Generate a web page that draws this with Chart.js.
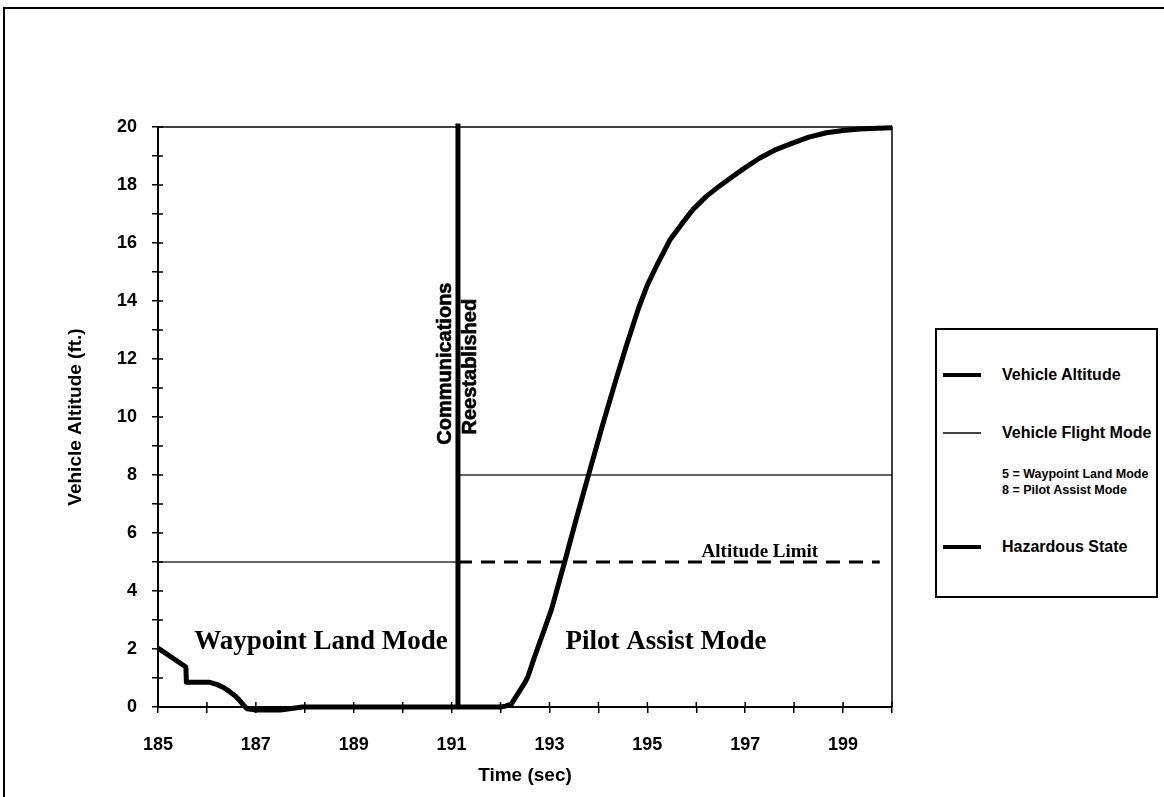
<!DOCTYPE html>
<html lang="en">
<head>
<meta charset="UTF-8">
<title>Vehicle Altitude</title>
<script src="https://cdn.jsdelivr.net/npm/chart.js@4"></script>
<style>
  body { margin: 0; background: #fff; }
  #wrap { position: relative; width: 1164px; height: 797px; }
  #myChart { position: absolute; left: 0; top: 0; }
  #legend {
    position: absolute; left: 935px; top: 328px; width: 223px; height: 270px;
    border: 2px solid #000; box-sizing: border-box; background: #fff;
    font-family: 'Liberation Sans', Arial, sans-serif; color: #000;
  }
  .sw { position: absolute; left: 6px; width: 38px; background: #000; }
  .txt { position: absolute; left: 65px; font-size: 16px; font-weight: bold; line-height: 18px; white-space: nowrap; }
  .small { position: absolute; left: 65px; font-size: 12.5px; font-weight: bold; line-height: 16px; white-space: nowrap; }
</style>
</head>
<body>
<div id="wrap">
  <canvas id="myChart" width="1164" height="797"></canvas>
  <div id="legend">
    <div class="sw" style="top:43px;height:4px"></div>
    <div class="txt" style="top:36px">Vehicle Altitude</div>
    <div class="sw" style="top:102px;height:1.5px;background:#444"></div>
    <div class="txt" style="top:94px">Vehicle Flight Mode</div>
    <div class="small" style="top:136px">5 = Waypoint Land Mode</div>
    <div class="small" style="top:152px">8 = Pilot Assist Mode</div>
    <div class="sw" style="top:215px;height:4px"></div>
    <div class="txt" style="top:208px">Hazardous State</div>
  </div>
</div>
<script>
    // vehicle altitude trace (time in sec, altitude in ft)
    const altTime = [185.0, 185.57, 185.58, 186.06, 186.2, 186.35, 186.47, 186.58, 186.66, 186.74, 186.82, 187.0, 187.5, 187.95,
        189.0, 190.0, 191.0, 192.0, 192.1, 192.22, 192.5, 192.56, 192.7, 193.04, 193.31, 193.55, 193.79, 194.09,
        194.37, 194.57, 194.82, 195.0, 195.2, 195.46, 195.7, 195.93, 196.2, 196.47, 196.75, 197.0, 197.3, 197.6,
        197.98, 198.3, 198.66, 199.0, 199.34, 199.7, 200.0];
    const altValue = [2.03, 1.38, 0.85, 0.85, 0.78, 0.66, 0.52, 0.38, 0.24, 0.08, -0.06, -0.1, -0.1, 0,
        0, 0, 0, 0, 0.03, 0.1, 0.85, 1.05, 1.75, 3.36, 5.0, 6.5, 7.95, 9.75,
        11.35, 12.45, 13.75, 14.55, 15.25, 16.1, 16.65, 17.15, 17.6, 17.96, 18.3, 18.6, 18.93, 19.2,
        19.45, 19.65, 19.8, 19.88, 19.93, 19.96, 19.97];

    // flight mode (5 = waypoint land, 8 = pilot assist)
    const modeTime = [185, 191.13, 191.13, 200];
    const modeValue = [5, 5, 8, 8];

    // hazardous state marker, communications reestablished
    const hazardTime = [191.13, 191.13];
    const hazardValue = [0, 20.12];

    // altitude limit
    const limitTime = [191.13, 199.75];
    const limitValue = [5, 5];

    const xTicks = [185, 187, 189, 191, 193, 195, 197, 199];
    const yTicks = [0, 2, 4, 6, 8, 10, 12, 14, 16, 18, 20];

    const sans = "'Liberation Sans', Arial, sans-serif";
    const serif = "'Liberation Serif', 'Times New Roman', serif";

    function pts(xs, ys) {
        return xs.map((x, i) => ({x: x, y: ys[i]}));
    }

    const frame = {
        id: 'frame',
        beforeDraw(chart) {
            const ctx = chart.ctx;
            ctx.save();
            ctx.strokeStyle = '#000';
            ctx.lineWidth = 2;
            ctx.beginPath();
            ctx.moveTo(4, 797);
            ctx.lineTo(4, 8);
            ctx.lineTo(1164, 8);
            ctx.stroke();
            ctx.restore();
        },
        afterDraw(chart) {
            const ctx = chart.ctx;
            const a = chart.chartArea;
            const x = chart.scales.x, y = chart.scales.y;
            ctx.save();
            ctx.strokeStyle = '#000';
            // top and right edge of the plot
            ctx.lineWidth = 1.5;
            ctx.beginPath();
            ctx.moveTo(a.left, a.top);
            ctx.lineTo(a.right, a.top);
            ctx.lineTo(a.right, a.bottom);
            ctx.stroke();
            // inner half of the tick marks
            ctx.beginPath();
            x.ticks.forEach(t => {
                const px = x.getPixelForValue(t.value);
                ctx.moveTo(px, a.bottom);
                ctx.lineTo(px, a.bottom - 5);
            });
            y.ticks.forEach(t => {
                const py = y.getPixelForValue(t.value);
                ctx.moveTo(a.left, py);
                ctx.lineTo(a.left + 5, py);
            });
            ctx.stroke();

            // annotations
            ctx.fillStyle = '#000';
            ctx.textAlign = 'center';
            ctx.textBaseline = 'middle';
            ctx.font = 'bold 27px ' + serif;
            ctx.fillText('Waypoint Land Mode', x.getPixelForValue(188.33), y.getPixelForValue(2.25));
            ctx.fillText('Pilot Assist Mode', x.getPixelForValue(195.38), y.getPixelForValue(2.25));
            ctx.font = 'bold 19px ' + serif;
            ctx.textBaseline = 'alphabetic';
            ctx.fillText('Altitude Limit', x.getPixelForValue(197.3), y.getPixelForValue(5.17));

            const lx = x.getPixelForValue(hazardTime[0]);
            const ly = y.getPixelForValue(11.84);
            ctx.font = '700 20px ' + sans;
            ctx.textBaseline = 'middle';
            ctx.lineWidth = 0.6;
            ctx.save();
            ctx.translate(lx - 12, ly);
            ctx.rotate(-Math.PI / 2);
            ctx.fillText('Communications', 0, 0);
            ctx.strokeText('Communications', 0, 0);
            ctx.restore();
            ctx.save();
            ctx.translate(lx + 13, ly + 3);
            ctx.rotate(-Math.PI / 2);
            ctx.fillText('Reestablished', 0, 0);
            ctx.strokeText('Reestablished', 0, 0);
            ctx.restore();
            ctx.restore();
        }
    };

    const data = {
        datasets: [
            {
                label: 'Vehicle Altitude',
                data: pts(altTime, altValue),
                borderColor: '#000',
                borderWidth: 5,
                pointRadius: 0,
                tension: 0,
                borderJoinStyle: 'round',
                clip: false
            },
            {
                label: 'Hazardous State',
                data: pts(hazardTime, hazardValue),
                borderColor: '#000',
                borderWidth: 5,
                pointRadius: 0,
                clip: false
            },
            {
                label: 'Altitude Limit',
                data: pts(limitTime, limitValue),
                borderColor: '#000',
                borderWidth: 3,
                borderDash: [14, 9],
                pointRadius: 0
            },
            {
                label: 'Vehicle Flight Mode',
                data: pts(modeTime, modeValue),
                borderColor: '#333',
                borderWidth: 1.5,
                pointRadius: 0,
                clip: false
            }
        ]
    };

    const config = {
        type: 'line',
        data,
        options: {
            responsive: false,
            animation: false,
            devicePixelRatio: 1,
            layout: { padding: { top: 127, right: 272, bottom: 0, left: 0 } },
            plugins: { legend: { display: false }, tooltip: { enabled: false } },
            scales: {
                x: {
                    type: 'linear',
                    min: 185,
                    max: 200,
                    afterFit: s => { s.height = 90; },
                    ticks: {
                        stepSize: 1,
                        autoSkip: false,
                        maxRotation: 0,
                        padding: 21,
                        color: '#000',
                        font: { family: sans, size: 18, weight: 'bold' },
                        callback: v => xTicks.includes(Math.round(v)) ? Math.round(v) : ''
                    },
                    grid: { drawOnChartArea: false, tickLength: 6, color: '#000', lineWidth: 1.5 },
                    border: { color: '#000', width: 2 },
                    title: {
                        display: true,
                        text: 'Time (sec)',
                        color: '#000',
                        font: { family: sans, size: 19, weight: 'bold' },
                        padding: { top: 0, bottom: 10 }
                    }
                },
                y: {
                    min: 0,
                    max: 20,
                    afterFit: s => { s.width = 158; },
                    ticks: {
                        stepSize: 1,
                        autoSkip: false,
                        padding: 15,
                        color: '#000',
                        font: { family: sans, size: 18, weight: 'bold' },
                        callback: v => yTicks.includes(Math.round(v)) ? Math.round(v) : ''
                    },
                    grid: { drawOnChartArea: false, tickLength: 6, color: '#000', lineWidth: 1.5 },
                    border: { color: '#000', width: 2 },
                    title: {
                        display: true,
                        text: 'Vehicle Altitude (ft.)',
                        color: '#000',
                        font: { family: sans, size: 19, weight: 'bold' },
                        padding: { top: 64, bottom: 0 }
                    }
                }
            }
        },
        plugins: [frame]
    };

    var myChart = new Chart(document.getElementById('myChart'), config);
</script>
</body>
</html>
